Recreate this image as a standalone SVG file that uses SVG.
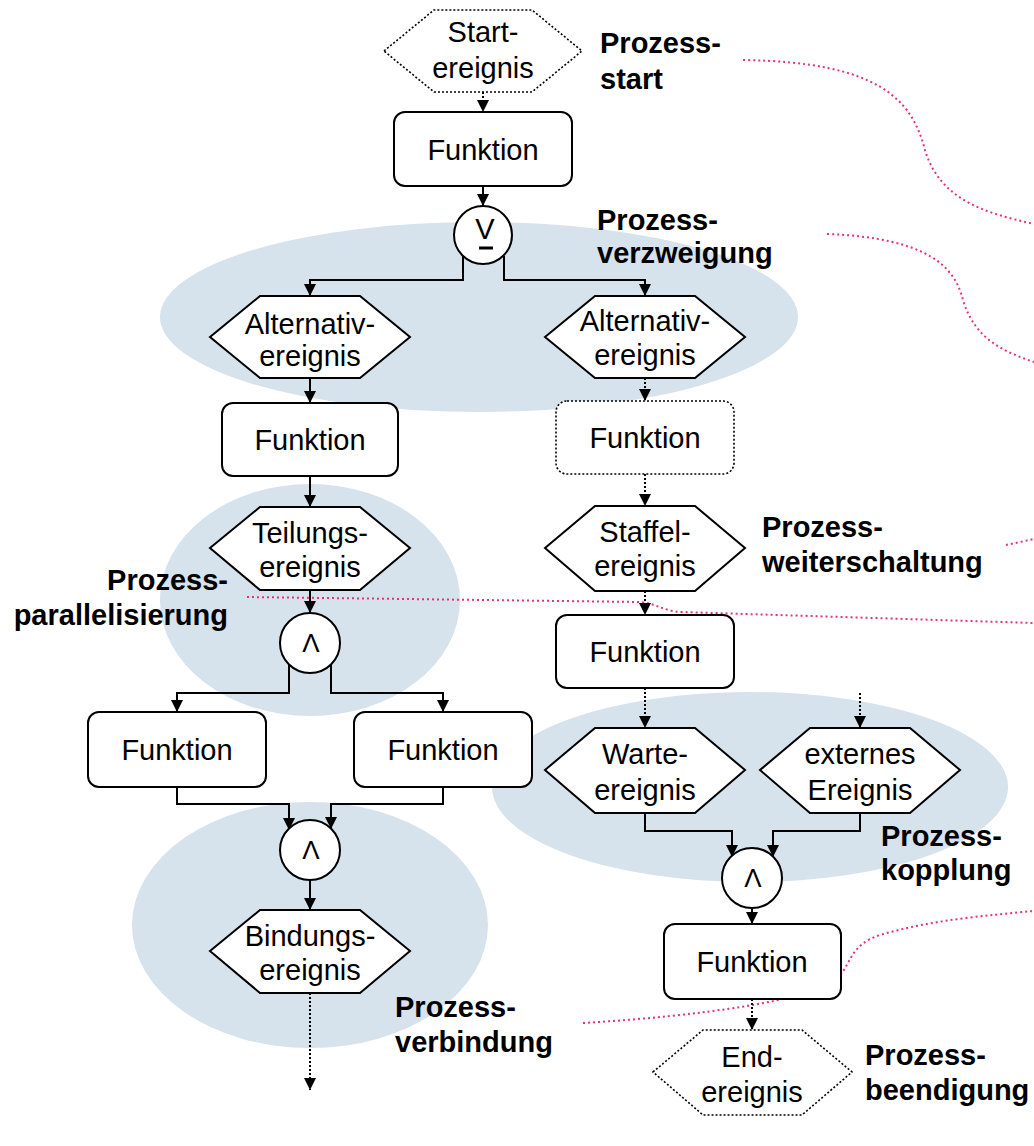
<svg xmlns="http://www.w3.org/2000/svg" width="1034" height="1146" viewBox="0 0 1034 1146">
<defs>
<style>
.bg{fill:#ffffff}
.zone{fill:#d6e2ec;stroke:none}
.pink{fill:none;stroke:#e6327a;stroke-width:2;stroke-dasharray:2 3}
.ev{fill:#ffffff;stroke:#000;stroke-width:2}
.evd{fill:#ffffff;stroke:#000;stroke-width:1.6;stroke-dasharray:2 2}
.fn{fill:#ffffff;stroke:#000;stroke-width:2}
.fnd{fill:#ffffff;stroke:#000;stroke-width:1.6;stroke-dasharray:2 2}
.gate{fill:#ffffff;stroke:#000;stroke-width:2}
.c{fill:none;stroke:#000;stroke-width:2}
.cd{fill:none;stroke:#000;stroke-width:2;stroke-dasharray:2 2}
.t{font-family:"Liberation Sans",Arial,sans-serif;font-size:29px;fill:#000;text-anchor:middle}
.g{font-family:"Liberation Sans",Arial,sans-serif;font-size:26px;fill:#000;text-anchor:middle}
.b{font-family:"Liberation Sans",Arial,sans-serif;font-size:29px;font-weight:bold;fill:#000}
</style>
<marker id="ah" viewBox="0 0 12 12" refX="12" refY="6" markerWidth="12" markerHeight="12" orient="auto" markerUnits="userSpaceOnUse">
<path d="M0,0 L12,6 L0,12 z" fill="#000"/>
</marker>
</defs>
<rect class="bg" x="0" y="0" width="1034" height="1146"/>

<g id="zones">
<ellipse class="zone" cx="479" cy="317" rx="319" ry="95"/>
<ellipse class="zone" cx="310" cy="600" rx="150" ry="116"/>
<ellipse class="zone" cx="310" cy="925" rx="178" ry="123"/>
<ellipse class="zone" cx="750" cy="787" rx="258" ry="95"/>
</g>

<g id="callouts">
<path class="pink" d="M743,60 C880,62 912,100 925,150 C940,200 985,213 1034,224"/>
<path class="pink" d="M827,234 C930,238 955,268 963,300 C975,340 1005,352 1034,362"/>
<path class="pink" d="M1006,545 C1015,543 1025,541 1034,539"/>
<path class="pink" d="M247,597 L640,602 C656,603 662,611 682,612 L1034,623"/>
<path class="pink" d="M583,1023 C700,1016 815,1000 838,978 C852,962 850,945 880,935 C930,920 990,915 1034,911"/>
</g>

<g id="connectors">
<path class="cd" d="M483,92 L483,112" marker-end="url(#ah)"/>
<path class="c" d="M483,186 L483,206" marker-end="url(#ah)"/>
<path class="c" d="M463,256 L463,280 L310,280 L310,296" marker-end="url(#ah)"/>
<path class="c" d="M504,256 L504,280 L645,280 L645,296" marker-end="url(#ah)"/>
<path class="c" d="M310,378 L310,403" marker-end="url(#ah)"/>
<path class="cd" d="M645,378 L645,401" marker-end="url(#ah)"/>
<path class="c" d="M310,476 L310,507" marker-end="url(#ah)"/>
<path class="cd" d="M645,474 L645,506" marker-end="url(#ah)"/>
<path class="c" d="M310,590 L310,613" marker-end="url(#ah)"/>
<path class="c" d="M289,664 L289,693 L177,693 L177,712" marker-end="url(#ah)"/>
<path class="c" d="M331,664 L331,693 L443,693 L443,712" marker-end="url(#ah)"/>
<path class="c" d="M177,787 L177,804 L289,804 L289,830" marker-end="url(#ah)"/>
<path class="c" d="M443,787 L443,804 L331,804 L331,829" marker-end="url(#ah)"/>
<path class="c" d="M310,880 L310,910" marker-end="url(#ah)"/>
<path class="cd" d="M310,993 L310,1090" marker-end="url(#ah)"/>
<path class="cd" d="M645,591 L645,615" marker-end="url(#ah)"/>
<path class="cd" d="M645,688 L645,728" marker-end="url(#ah)"/>
<path class="cd" d="M860,693 L860,728" marker-end="url(#ah)"/>
<path class="c" d="M645,813 L645,831 L732,831 L732,857" marker-end="url(#ah)"/>
<path class="c" d="M860,813 L860,831 L773,831 L773,857" marker-end="url(#ah)"/>
<path class="c" d="M752,908 L752,924" marker-end="url(#ah)"/>
<path class="cd" d="M752,999 L752,1030" marker-end="url(#ah)"/>
</g>

<g id="start-event">
<polygon class="evd" points="384,51 434,10 532,10 582,51 532,92 434,92"/>
<text class="t" x="483" y="42">Start-</text>
<text class="t" x="483" y="78">ereignis</text>
</g>
<g id="func-1">
<rect class="fn" x="394" y="112" width="178" height="74" rx="11"/>
<text class="t" x="483" y="160">Funktion</text>
</g>
<g id="xor-1">
<circle class="gate" cx="483" cy="235" r="29"/>
<text class="t" x="485" y="239">V</text>
<line x1="479" y1="248" x2="493" y2="248" stroke="#000" stroke-width="3"/>
</g>
<g id="alt-event-left">
<polygon class="ev" points="210,337 260,296 360,296 410,337 360,378 260,378"/>
<text class="t" x="310" y="334">Alternativ-</text>
<text class="t" x="310" y="366">ereignis</text>
</g>
<g id="alt-event-right">
<polygon class="ev" points="545,337 595,296 695,296 745,337 695,378 595,378"/>
<text class="t" x="645" y="331">Alternativ-</text>
<text class="t" x="645" y="365">ereignis</text>
</g>
<g id="func-2">
<rect class="fn" x="222" y="403" width="176" height="73" rx="11"/>
<text class="t" x="310" y="450">Funktion</text>
</g>
<g id="func-3">
<rect class="fnd" x="556" y="401" width="178" height="73" rx="11"/>
<text class="t" x="645" y="448">Funktion</text>
</g>
<g id="split-event">
<polygon class="ev" points="210,548 260,507 360,507 410,548 360,590 260,590"/>
<text class="t" x="310" y="543">Teilungs-</text>
<text class="t" x="310" y="577">ereignis</text>
</g>
<g id="stage-event">
<polygon class="ev" points="545,548 595,506 695,506 745,548 695,591 595,591"/>
<text class="t" x="645" y="542">Staffel-</text>
<text class="t" x="645" y="576">ereignis</text>
</g>
<g id="and-1">
<circle class="gate" cx="310" cy="643" r="30"/>
<text class="g" x="311" y="652">Λ</text>
</g>
<g id="func-4">
<rect class="fn" x="556" y="615" width="178" height="73" rx="11"/>
<text class="t" x="645" y="662">Funktion</text>
</g>
<g id="func-5">
<rect class="fn" x="88" y="712" width="178" height="75" rx="11"/>
<text class="t" x="177" y="760">Funktion</text>
</g>
<g id="func-6">
<rect class="fn" x="354" y="712" width="178" height="75" rx="11"/>
<text class="t" x="443" y="760">Funktion</text>
</g>
<g id="wait-event">
<polygon class="ev" points="545,770 595,728 695,728 745,770 695,813 595,813"/>
<text class="t" x="645" y="764">Warte-</text>
<text class="t" x="645" y="800">ereignis</text>
</g>
<g id="external-event">
<polygon class="ev" points="760,770 810,728 910,728 960,770 910,813 810,813"/>
<text class="t" x="860" y="764">externes</text>
<text class="t" x="860" y="800">Ereignis</text>
</g>
<g id="and-2">
<circle class="gate" cx="310" cy="850" r="30"/>
<text class="g" x="311" y="859">Λ</text>
</g>
<g id="and-3">
<circle class="gate" cx="752" cy="878" r="30"/>
<text class="g" x="753" y="887">Λ</text>
</g>
<g id="bind-event">
<polygon class="ev" points="210,951 260,910 360,910 410,951 360,993 260,993"/>
<text class="t" x="310" y="946">Bindungs-</text>
<text class="t" x="310" y="980">ereignis</text>
</g>
<g id="func-7">
<rect class="fn" x="664" y="924" width="177" height="75" rx="11"/>
<text class="t" x="752" y="972">Funktion</text>
</g>
<g id="end-event">
<polygon class="evd" points="653,1072 703,1030 802,1030 852,1072 802,1115 703,1115"/>
<text class="t" x="752" y="1067">End-</text>
<text class="t" x="752" y="1102">ereignis</text>
</g>

<g id="labels">
<text class="b" x="600" y="53">Prozess-</text>
<text class="b" x="600" y="89">start</text>
<text class="b" x="597" y="230">Prozess-</text>
<text class="b" x="597" y="263">verzweigung</text>
<text class="b" x="762" y="537">Prozess-</text>
<text class="b" x="762" y="572">weiterschaltung</text>
<text class="b" x="228" y="590" text-anchor="end">Prozess-</text>
<text class="b" x="228" y="625" text-anchor="end">parallelisierung</text>
<text class="b" x="881" y="846">Prozess-</text>
<text class="b" x="881" y="880">kopplung</text>
<text class="b" x="395" y="1017">Prozess-</text>
<text class="b" x="395" y="1052">verbindung</text>
<text class="b" x="865" y="1065">Prozess-</text>
<text class="b" x="865" y="1100">beendigung</text>
</g>
</svg>
